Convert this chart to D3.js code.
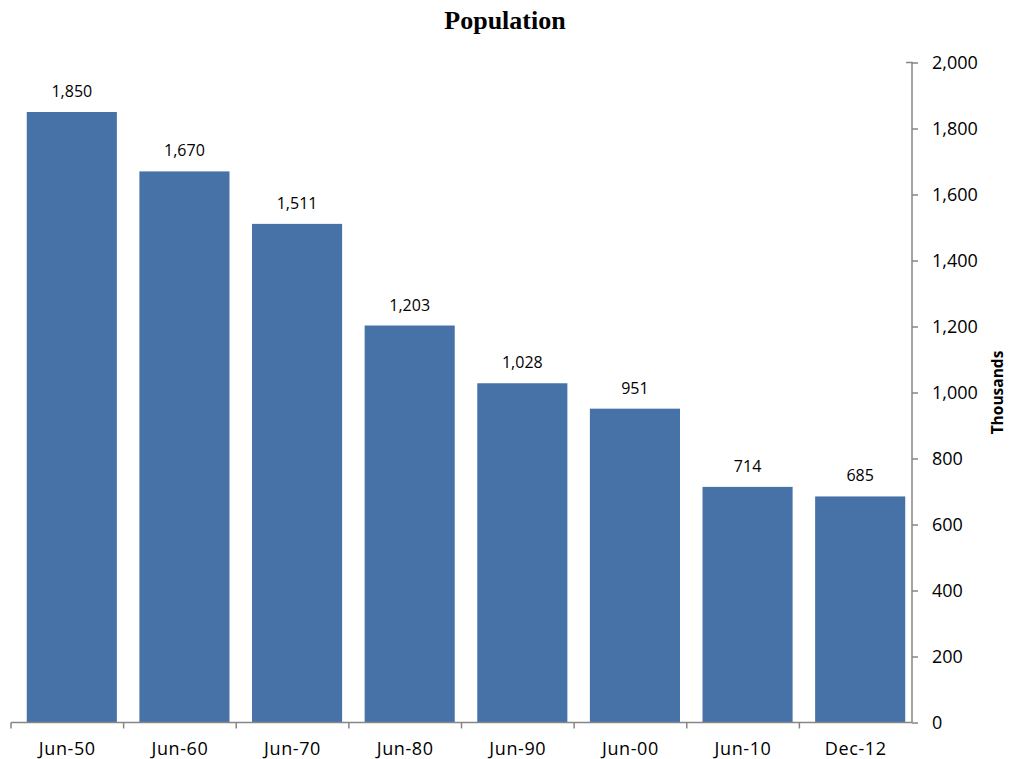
<!DOCTYPE html>
<html>
<head>
<meta charset="utf-8">
<script src="https://cdn.jsdelivr.net/npm/d3@7"></script>
<style>
  body { margin: 0; background: #fff; }
  text { font-family: "Open Sans", "DejaVu Sans", sans-serif; fill: #000; }
</style>
</head>
<body>
<div id="chart"></div>
<script>
var categories = ['Jun-50', 'Jun-60', 'Jun-70', 'Jun-80', 'Jun-90', 'Jun-00', 'Jun-10', 'Dec-12'];
var population = [1850, 1670, 1511, 1203, 1028, 951, 714, 685];
var yTicks = [0, 200, 400, 600, 800, 1000, 1200, 1400, 1600, 1800, 2000];

var width = 1009,
    height = 759,
    plotLeft = 11,
    plotRight = 912,
    plotTop = 62.5,
    plotBottom = 722.5;

var svg = d3.select('#chart').append('svg')
    .attr('width', width)
    .attr('height', height);

// category slots (ticks sit on the slot edges)
var x = d3.scaleBand()
    .domain(categories)
    .range([plotLeft, plotRight])
    .padding(0);

var y = d3.scaleLinear()
    .domain([0, 2000])
    .range([plotBottom, plotTop]);

var barW = x.bandwidth() * 0.8,
    shift = 4.5;

// bars
svg.selectAll('.bar')
    .data(population)
    .enter().append('rect')
    .attr('class', 'bar')
    .attr('x', function(d, i) { return x(categories[i]) + (x.bandwidth() - barW) / 2 + shift; })
    .attr('y', function(d) { return y(d); })
    .attr('width', barW)
    .attr('height', function(d) { return y(0) - y(d); })
    .attr('fill', '#4672a8');

// value labels
svg.selectAll('.val')
    .data(population)
    .enter().append('text')
    .attr('class', 'val')
    .attr('x', function(d, i) { return x(categories[i]) + x.bandwidth() / 2 + shift; })
    .attr('y', function(d) { return y(d) - 15; })
    .attr('text-anchor', 'middle')
    .style('font-size', '16px')
    .text(function(d) { return d3.format(',')(d); });

var axisColor = '#868686';

// bottom axis with ticks between categories
var xAxis = svg.append('g');
xAxis.append('line')
    .attr('x1', plotLeft).attr('x2', plotRight)
    .attr('y1', plotBottom).attr('y2', plotBottom)
    .attr('stroke', axisColor).attr('stroke-width', 1.5);
xAxis.selectAll('.xt')
    .data(categories)
    .enter().append('line')
    .attr('x1', function(d) { return x(d); })
    .attr('x2', function(d) { return x(d); })
    .attr('y1', plotBottom).attr('y2', plotBottom + 6)
    .attr('stroke', axisColor).attr('stroke-width', 1.5);
xAxis.selectAll('.xl')
    .data(categories)
    .enter().append('text')
    .attr('x', function(d) { return x(d) + x.bandwidth() / 2; })
    .attr('y', 755)
    .attr('text-anchor', 'middle')
    .style('font-size', '18px')
    .style('letter-spacing', '0.6px')
    .text(function(d) { return d; });

// right value axis
var yAxis = svg.append('g')
    .attr('transform', 'translate(' + plotRight + ',0)')
    .call(d3.axisRight(y)
        .tickValues(yTicks)
        .tickSize(6)
        .tickPadding(14)
        .tickFormat(d3.format(',')));
yAxis.select('.domain')
    .attr('stroke', axisColor).attr('stroke-width', 1.5)
    .attr('d', 'M-6,' + plotTop + 'H0V' + plotBottom);
yAxis.selectAll('.tick line').attr('stroke', axisColor).attr('stroke-width', 1.5);
yAxis.selectAll('.tick text')
    .style('font-size', '18px')
    .style('font-family', '"Open Sans", "DejaVu Sans", sans-serif')
    .attr('fill', '#000');

// axis title
svg.append('text')
    .attr('transform', 'translate(1003,' + y(1000) + ') rotate(-90)')
    .attr('text-anchor', 'middle')
    .style('font-size', '15.5px')
    .style('font-weight', 'bold')
    .text('Thousands');

// chart title
svg.append('text')
    .attr('x', 505)
    .attr('y', 29)
    .attr('text-anchor', 'middle')
    .style('font-family', '"Liberation Serif", "Times New Roman", serif')
    .style('font-size', '26px')
    .style('font-weight', 'bold')
    .text('Population');
</script>
</body>
</html>
